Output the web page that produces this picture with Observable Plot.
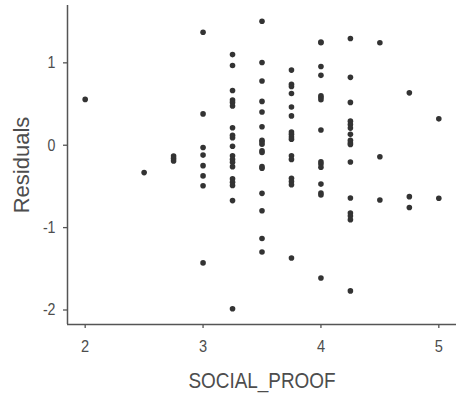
<!DOCTYPE html>
<html>
<head>
<meta charset="utf-8">
<script src="https://cdn.jsdelivr.net/npm/d3@7"></script>
<script src="https://cdn.jsdelivr.net/npm/@observablehq/plot@0.6"></script>
<style>
  html, body { margin: 0; padding: 0; background: #fff; }
  #chart svg { display: block; }
</style>
</head>
<body>
<div id="chart"></div>
<script>
// SOCIAL_PROOF values (x) and residuals (y)
const r2 = [0.556];
const r25 = [-0.332];
const r275 = [-0.13, -0.16, -0.19];
const r3 = [1.372, 0.38, -0.028, -0.12, -0.248, -0.372, -0.492, -1.428];
const r325 = [1.10, 0.968, 0.664, 0.548, 0.52, 0.476, 0.212, 0.12, 0.092, -0.012, -0.128, -0.172, -0.208, -0.26, -0.408, -0.448, -0.488, -0.672, -1.984];
const r35 = [1.504, 1.004, 0.78, 0.532, 0.404, 0.224, 0.06, 0.04, 0.012, -0.068, -0.088, -0.26, -0.28, -0.584, -0.796, -1.132, -1.296];
const r375 = [0.912, 0.74, 0.712, 0.628, 0.464, 0.356, 0.16, 0.132, 0.10, 0.072, -0.128, -0.172, -0.40, -0.44, -0.48, -1.368];
const r4 = [1.252, 1.244, 0.956, 0.848, 0.60, 0.58, 0.552, 0.184, -0.20, -0.228, -0.268, -0.472, -0.58, -0.604, -1.612];
const r425 = [1.296, 0.824, 0.52, 0.292, 0.252, 0.208, 0.132, 0.06, 0.028, 0.008, -0.204, -0.64, -0.824, -0.86, -0.904, -1.768];
const r45 = [1.244, -0.14, -0.664];
const r475 = [0.636, -0.624, -0.756];
const r5 = [0.32, -0.644];

const groups = [
  [2, r2], [2.5, r25], [2.75, r275], [3, r3], [3.25, r325], [3.5, r35],
  [3.75, r375], [4, r4], [4.25, r425], [4.5, r45], [4.75, r475], [5, r5]
];
const data = groups.flatMap(([x, rs]) => rs.map(r => ({SOCIAL_PROOF: x, Residuals: r})));

const xTicks = [2, 3, 4, 5];
const yTicks = [-2, -1, 0, 1];
const xDomain = [1.85, 5.15];
const yDomain = [-2.176, 1.696];

const font = "'Liberation Sans', Arial, sans-serif";
const axisColor = "#555";
const textColor = "#4d4d4d";

const chart = Plot.plot({
  width: 459,
  height: 402,
  marginLeft: 67,
  marginRight: 3,
  marginTop: 5,
  marginBottom: 78,
  style: {fontFamily: font, background: "#fff"},
  x: {domain: xDomain},
  y: {domain: yDomain},
  marks: [
    Plot.axisX({ticks: xTicks, tickFormat: d => String(d), tickSize: 4, tickPadding: 11, fontSize: 17, color: textColor, stroke: axisColor, label: null, strokeWidth: 1.3}),
    Plot.axisY({ticks: yTicks, tickFormat: d => String(d), tickSize: 4, tickPadding: 8, fontSize: 16.5, color: textColor, stroke: axisColor, label: null, strokeWidth: 1.3}),
    Plot.ruleX([xDomain[0]], {stroke: axisColor, strokeWidth: 1.5}),
    Plot.ruleY([yDomain[0]], {stroke: axisColor, strokeWidth: 1.5}),
    Plot.dot(data, {x: "SOCIAL_PROOF", y: "Residuals", r: 2.8, fill: "#333", stroke: "none"}),
    Plot.text(["SOCIAL_PROOF"], {frameAnchor: "bottom", textAnchor: "middle", dy: 56, fontSize: 22, fill: textColor, lineAnchor: "middle"}),
    Plot.text(["Residuals"], {frameAnchor: "left", textAnchor: "middle", dx: -45.5, rotate: -90, fontSize: 22, fill: textColor, lineAnchor: "middle"})
  ]
});

document.getElementById("chart").append(chart);

// The reference's lettering is horizontally narrow: compress horizontal texts.
const squeeze = 0.86;
chart.querySelectorAll("text").forEach(el => {
  const t = el.getAttribute("transform") || "";
  if (/rotate\(/.test(t)) return;
  const len = el.getComputedTextLength();
  if (len > 0) {
    el.setAttribute("textLength", (len * squeeze).toFixed(2));
    el.setAttribute("lengthAdjust", "spacingAndGlyphs");
  }
});
</script>
</body>
</html>
